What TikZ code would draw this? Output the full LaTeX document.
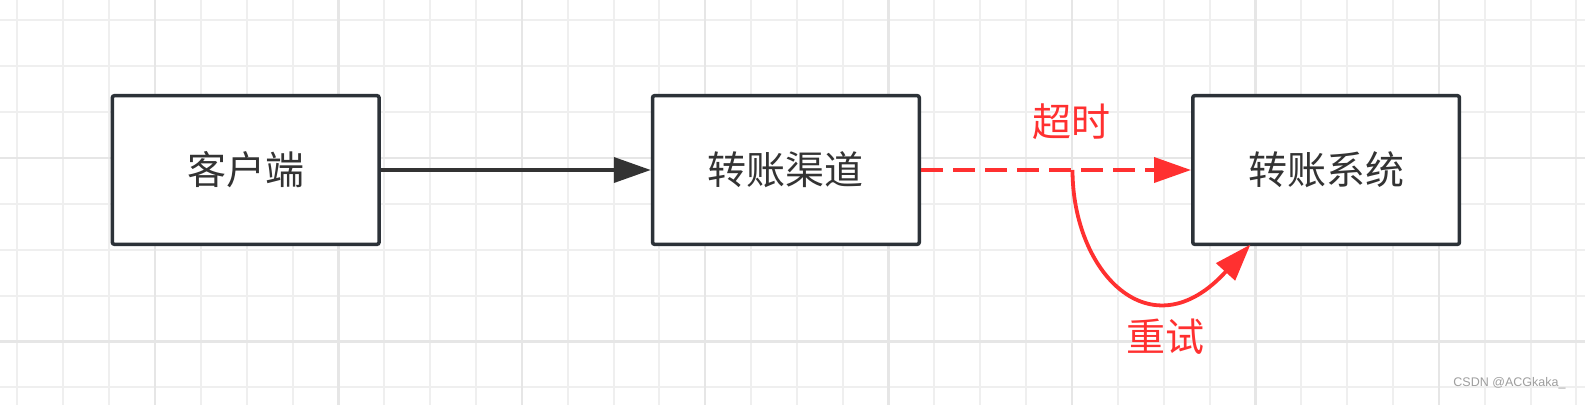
\documentclass[tikz,border=0pt]{standalone}
\usepackage{fontspec}
\setsansfont{Liberation Sans}
\newfontfamily\cjk{Noto Sans CJK SC}
\usetikzlibrary{positioning,arrows.meta}
\definecolor{boxline}{HTML}{2C3238}
\definecolor{textgray}{HTML}{333333}
\definecolor{alarmred}{HTML}{FF3030}
\definecolor{gridminor}{HTML}{EFEFEF}
\definecolor{gridmajor}{HTML}{E6E6E6}
\begin{document}
\begin{tikzpicture}[x=1pt,y=-1pt,
box/.style={draw=boxline,line width=3.5pt,rounded corners=2pt,fill=white,
  minimum width=266.7pt,minimum height=148.6pt,inner sep=0pt,
  text=textgray,font=\cjk\fontsize{39}{39}\selectfont},
redlabel/.style={text=alarmred,font=\cjk\fontsize{39}{39}\selectfont},
flow/.style={draw=textgray,line width=3.8pt,-{Triangle[length=37pt,width=25pt]}},
redflow/.style={draw=alarmred,line width=3.8pt,-{Triangle[length=37pt,width=25pt]}}]
\useasboundingbox[fill=white] (0,0) rectangle (1585,405);
% grid
\foreach \i in {-3,...,31} \draw[gridminor,line width=2pt] ({155+45.85*\i},0) -- ++(0,405);
\foreach \j in {-3,...,5} \draw[gridminor,line width=2pt] (0,{158+45.85*\j}) -- ++(1585,0);
\foreach \i in {0,4,...,28} \draw[gridmajor,line width=2.5pt] ({155+45.85*\i},0) -- ++(0,405);
\foreach \j in {0,4} \draw[gridmajor,line width=2.5pt] (0,{158+45.85*\j}) -- ++(1585,0);
% boxes
\node[box] (client) at (245.7,170) {客户端};
\node[box,right=270pt of client] (channel) {转账渠道};
\node[box,right=270pt of channel] (system) {转账系统};
% connectors
\draw[flow] (client) -- (channel);
\draw[redflow,dash pattern=on 22pt off 10pt] (channel) -- (system);
\coordinate (retry start) at ([xshift=151.5pt]channel.east);
\coordinate (retry end) at ([xshift=-75.7pt,yshift=1.5pt]system.south);
\draw[redflow] (retry start) .. controls +(0,102) and +(-100,110) .. (retry end);
% labels
\node[redlabel] (timeout) at (1071,122) {超时};
\node[redlabel] (retry) at (1165,337) {重试};
\node[anchor=east,text=black!38,font=\sffamily\fontsize{12.5}{12.5}\selectfont] (mark) at (1569,383) {CSDN @ACGkaka\_};
\end{tikzpicture}
\end{document}
